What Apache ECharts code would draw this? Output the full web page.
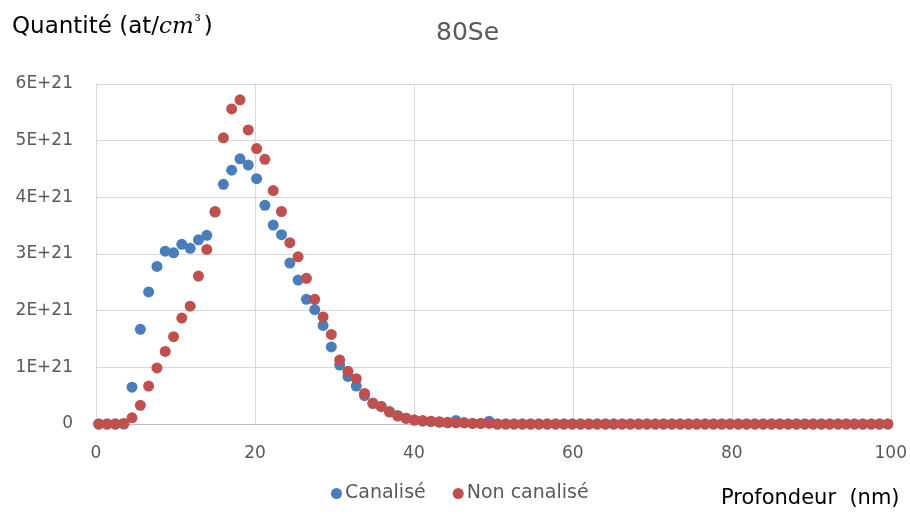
<!DOCTYPE html>
<html>
<head>
<meta charset="utf-8">
<script src="https://cdn.jsdelivr.net/npm/echarts@6/dist/echarts.min.js"></script>
<style>html,body{margin:0;padding:0;background:#fff;}#c{width:910px;height:517px;}</style>
</head>
<body>
<div id="c"></div>
<script>
// Depth (nm) of each measurement point
const depths = [0.35, 1.4, 2.44, 3.49, 4.53, 5.58, 6.62, 7.67, 8.71, 9.76, 10.8, 11.85, 12.89, 13.94, 14.98, 16.03, 17.07, 18.12, 19.16, 20.21, 21.25, 22.3, 23.34, 24.39, 25.43, 26.48, 27.52, 28.57, 29.61, 30.66, 31.7, 32.75, 33.79, 34.84, 35.88, 36.93, 37.97, 39.02, 40.06, 41.11, 42.15, 43.2, 44.24, 45.29, 46.33, 47.38, 48.42, 49.47, 50.51, 51.56, 52.6, 53.65, 54.69, 55.74, 56.78, 57.83, 58.87, 59.92, 60.96, 62.01, 63.05, 64.1, 65.14, 66.19, 67.23, 68.28, 69.32, 70.37, 71.41, 72.46, 73.5, 74.55, 75.59, 76.64, 77.68, 78.73, 79.77, 80.82, 81.86, 82.91, 83.95, 85.0, 86.04, 87.09, 88.13, 89.18, 90.22, 91.27, 92.31, 93.36, 94.4, 95.45, 96.49, 97.54, 98.58, 99.63];

// Quantité (at/cm3), channelled implantation
const canalise = [0, 0, 0, 0, 0.65e21, 1.67e21, 2.33e21, 2.78e21, 3.05e21, 3.02e21, 3.17e21, 3.1e21, 3.25e21, 3.33e21, 3.75e21, 4.23e21, 4.48e21, 4.68e21, 4.57e21, 4.33e21, 3.86e21, 3.51e21, 3.34e21, 2.84e21, 2.54e21, 2.2e21, 2.02e21, 1.74e21, 1.36e21, 1.04e21, 0.84e21, 0.67e21, 0.5e21, 0.36e21, 0.31e21, 0.22e21, 0.15e21, 0.1e21, 0.07e21, 0.05e21, 0.04e21, 0.03e21, 0.02e21, 0.06e21, 0.02e21, 0.01e21, 0.01e21, 0.05e21, 0, 0, 0, 0, 0, 0, 0, 0, 0, 0, 0, 0, 0, 0, 0, 0, 0, 0, 0, 0, 0, 0, 0, 0, 0, 0, 0, 0, 0, 0, 0, 0, 0, 0, 0, 0, 0, 0, 0, 0, 0, 0, 0, 0, 0, 0, 0, 0, 0, 0];

// Quantité (at/cm3), non-channelled implantation
const nonCanalise = [0, 0, 0, 0.01e21, 0.11e21, 0.33e21, 0.67e21, 0.99e21, 1.28e21, 1.54e21, 1.87e21, 2.08e21, 2.61e21, 3.08e21, 3.74e21, 5.05e21, 5.56e21, 5.72e21, 5.19e21, 4.86e21, 4.67e21, 4.12e21, 3.75e21, 3.2e21, 2.95e21, 2.57e21, 2.2e21, 1.89e21, 1.58e21, 1.13e21, 0.93e21, 0.8e21, 0.54e21, 0.37e21, 0.31e21, 0.21e21, 0.14e21, 0.1e21, 0.07e21, 0.06e21, 0.05e21, 0.04e21, 0.03e21, 0.02e21, 0.02e21, 0.01e21, 0.01e21, 0.01e21, 0, 0, 0, 0, 0, 0, 0, 0, 0, 0, 0, 0, 0, 0, 0, 0, 0, 0, 0, 0, 0, 0, 0, 0, 0, 0, 0, 0, 0, 0, 0, 0, 0, 0, 0, 0, 0, 0, 0, 0, 0, 0, 0, 0, 0, 0, 0, 0, 0, 0];

const seriesNames = ['Canalisé', 'Non canalisé'];
const yTickLabels = ['0', '1E+21', '2E+21', '3E+21', '4E+21', '5E+21', '6E+21'];

const FONT = 'DejaVu Sans';
const chart = echarts.init(document.getElementById('c'), null, {renderer: 'canvas'});
const pair = (ys) => depths.map((d, i) => [d, ys[i]]);

chart.setOption({
  backgroundColor: '#ffffff',
  animation: false,
  title: [
    {text: '80Se', left: 431, top: 16, textStyle: {fontFamily: FONT, fontSize: 25, fontWeight: 'normal', color: '#595959'}},
    {text: '{a|Quantité (at/}{b|cm}{c|³}{a|)}', left: 7, top: 10,
     textStyle: {fontWeight: 'normal', rich: {
       a: {fontFamily: FONT, fontSize: 23, fontWeight: 'normal', color: '#000000'},
       b: {fontFamily: 'DejaVu Serif', fontStyle: 'italic', fontWeight: 'normal', fontSize: 23, color: '#000000'},
       c: {fontFamily: 'DejaVu Serif', fontWeight: 'normal', fontSize: 15, color: '#000000', verticalAlign: 'top', padding: [0, 3, 9, 1]}
     }}},
    {text: 'Profondeur  (nm)', left: 716, top: 483, textStyle: {fontFamily: FONT, fontSize: 21, fontWeight: 'normal', color: '#000000'}}
  ],
  legend: {
    data: seriesNames,
    left: 331, top: 484, padding: 0,
    icon: 'circle', itemWidth: 11, itemHeight: 11, itemGap: 27,
    textStyle: {fontFamily: FONT, fontSize: 19, color: '#595959', padding: [0, 0, 0, -2]}
  },
  grid: {left: 96, right: 18, top: 84, bottom: 93, containLabel: false},
  xAxis: {
    type: 'value', min: 0, max: 100, interval: 20,
    axisLine: {show: true, lineStyle: {color: '#bfbfbf', width: 1}},
    axisTick: {show: false},
    splitLine: {show: true, lineStyle: {color: '#d9d9d9', width: 1}},
    axisLabel: {fontFamily: FONT, fontSize: 17, color: '#595959', margin: 21}
  },
  yAxis: {
    type: 'value', min: 0, max: 6e21, interval: 1e21,
    axisLine: {show: true, lineStyle: {color: '#d9d9d9', width: 1}},
    axisTick: {show: false},
    splitLine: {show: true, lineStyle: {color: '#d9d9d9', width: 1}},
    axisLabel: {fontFamily: FONT, fontSize: 17, color: '#595959', margin: 23,
      formatter: (v) => yTickLabels[Math.round(v / 1e21)]}
  },
  series: [
    {name: seriesNames[0], type: 'scatter', data: pair(canalise), symbolSize: 11,
     itemStyle: {color: '#4a7ebb', opacity: 1}},
    {name: seriesNames[1], type: 'scatter', data: pair(nonCanalise), symbolSize: 11,
     itemStyle: {color: '#c0504d', opacity: 1}}
  ]
});
</script>
</body>
</html>
